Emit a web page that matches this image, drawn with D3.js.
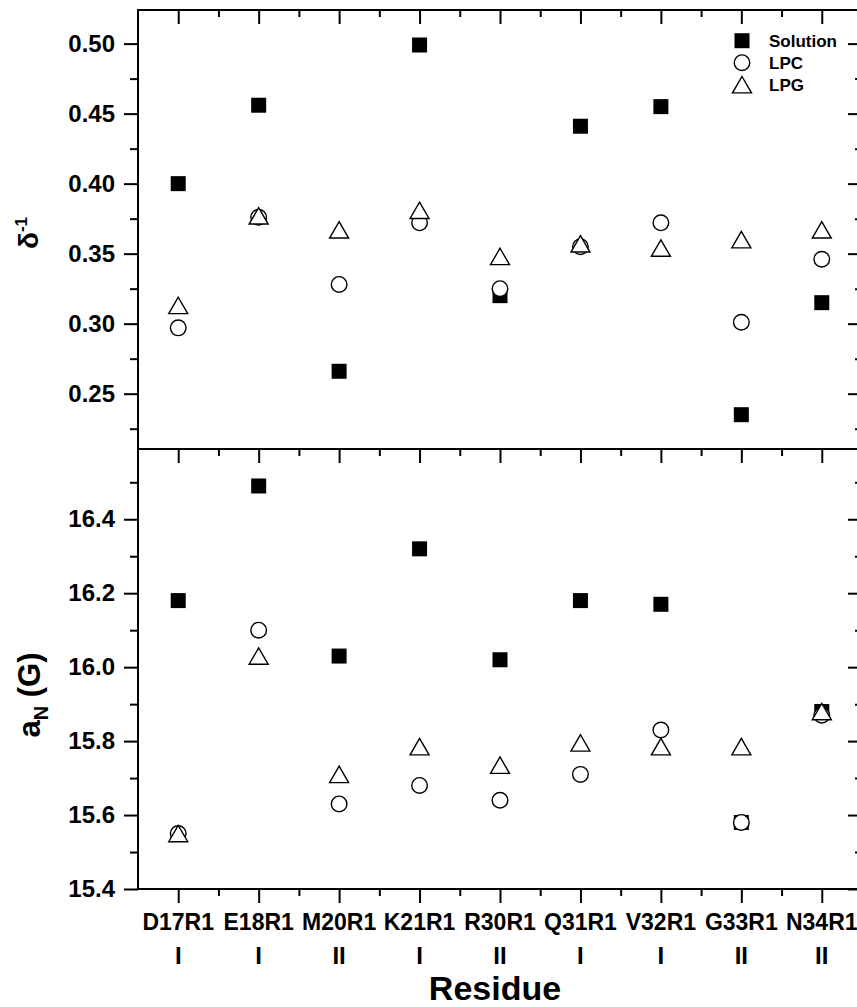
<!DOCTYPE html>
<html>
<head>
<meta charset="utf-8">
<script src="https://cdn.jsdelivr.net/npm/d3@7"></script>
<style>
    body { margin: 0; background: #fff; }
    svg { display: block; }
    text { font-family: "Liberation Sans", Arial, Helvetica, sans-serif; font-weight: bold; fill: #000; }
</style>
</head>
<body>
<div class="chart"></div>
<script>
// Residues and site labels
const residues = ["D17R1", "E18R1", "M20R1", "K21R1", "R30R1", "Q31R1", "V32R1", "G33R1", "N34R1"]
const sites = ["I", "I", "II", "I", "II", "I", "I", "II", "II"]

// top panel, inverse linewidth
const deltaSolution = [0.400, 0.456, 0.266, 0.499, 0.320, 0.441, 0.455, 0.235, 0.315]
const deltaLPC = [0.297, 0.376, 0.328, 0.372, 0.325, 0.355, 0.372, 0.301, 0.346]
const deltaLPG = [0.313, 0.377, 0.367, 0.381, 0.348, 0.357, 0.354, 0.360, 0.367]

// bottom panel, aN (G)
const aNSolution = [16.18, 16.49, 16.03, 16.32, 16.02, 16.18, 16.17, 15.58, 15.88]
const aNLPC = [15.55, 16.10, 15.63, 15.68, 15.64, 15.71, 15.83, 15.58, 15.87]
const aNLPG = [15.55, 16.03, 15.71, 15.785, 15.735, 15.795, 15.785, 15.785, 15.88]

const seriesNames = ["Solution", "LPC", "LPG"]

const width = 857
const height = 1007
const left = 138, right = 862
const topY = 10, midY = 449, botY = 889

const svg = d3.select('.chart')
    .append('svg')
    .attr('width', width)
    .attr('height', height)

const x = d3.scaleLinear().domain([0.5, residues.length + 0.5]).range([left, right])
const yTop = d3.scaleLinear().domain([0.2105, 0.524]).range([midY, topY])
const yBot = d3.scaleLinear().domain([15.4, 16.59]).range([botY, midY])

const majorX = d3.range(1, residues.length + 1)
const minorX = d3.range(1.5, residues.length, 1)

// markers
const sq = 15
const symbols = {
    "Solution": function (g) {
        g.append('rect').attr('x', -sq / 2).attr('y', -sq / 2).attr('width', sq).attr('height', sq)
            .attr('fill', '#000')
    },
    "LPC": function (g) {
        g.append('circle').attr('r', 7.8).attr('fill', '#fff').attr('stroke', '#000').attr('stroke-width', 1.4)
    },
    "LPG": function (g) {
        g.append('path').attr('d', 'M0,-8.2L9.5,8.2L-9.5,8.2Z')
            .attr('fill', '#fff').attr('stroke', '#000').attr('stroke-width', 1.4).attr('stroke-linejoin', 'miter')
    }
}

function styleAxis(g) {
    g.select('.domain').remove()
    g.selectAll('line').attr('stroke', '#000').attr('stroke-width', 2)
}

function drawPanel(y, y0, y1, series, majorY, minorY, fmt) {
    const p = svg.append('g')

    // left axis with labels
    p.append('g')
        .attr('transform', 'translate(' + left + ',0)')
        .call(d3.axisLeft(y).tickValues(majorY).tickSize(14).tickPadding(9).tickFormat(fmt))
        .call(styleAxis)
        .selectAll('text')
        .style('font-size', '24px')
    p.append('g')
        .attr('transform', 'translate(' + left + ',0)')
        .call(d3.axisLeft(y).tickValues(minorY).tickSize(8).tickFormat(''))
        .call(styleAxis)

    // right axis, ticks inward
    p.append('g')
        .attr('transform', 'translate(' + right + ',0)')
        .call(d3.axisLeft(y).tickValues(majorY).tickSize(14).tickFormat(''))
        .call(styleAxis)
    p.append('g')
        .attr('transform', 'translate(' + right + ',0)')
        .call(d3.axisLeft(y).tickValues(minorY).tickSize(7).tickFormat(''))
        .call(styleAxis)

    // top ticks, inward
    p.append('g')
        .attr('transform', 'translate(0,' + y1 + ')')
        .call(d3.axisBottom(x).tickValues(majorX).tickSize(14).tickFormat(''))
        .call(styleAxis)
    p.append('g')
        .attr('transform', 'translate(0,' + y1 + ')')
        .call(d3.axisBottom(x).tickValues(minorX).tickSize(7).tickFormat(''))
        .call(styleAxis)

    // frame
    p.append('rect')
        .attr('x', left).attr('y', y1)
        .attr('width', right - left).attr('height', y0 - y1)
        .attr('fill', 'none').attr('stroke', '#000').attr('stroke-width', 2)

    // points: squares first, then circles, then triangles
    series.forEach(function (vals, k) {
        const name = seriesNames[k]
        p.append('g')
            .selectAll('g')
            .data(vals)
            .enter()
            .append('g')
            .attr('transform', (d, i) => 'translate(' + x(i + 1) + ',' + y(d) + ')')
            .each(function () { symbols[name](d3.select(this)) })
    })
}

drawPanel(yTop, midY, topY, [deltaSolution, deltaLPC, deltaLPG],
    d3.range(0.25, 0.501, 0.05), d3.range(0.225, 0.48, 0.05), d3.format('.2f'))
drawPanel(yBot, botY, midY, [aNSolution, aNLPC, aNLPG],
    d3.range(15.4, 16.41, 0.2), d3.range(15.5, 16.51, 0.2), d3.format('.1f'))

// bottom axis, outward ticks
svg.append('g')
    .attr('transform', 'translate(0,' + botY + ')')
    .call(d3.axisBottom(x).tickValues(majorX).tickSize(14).tickFormat(''))
    .call(styleAxis)
svg.append('g')
    .attr('transform', 'translate(0,' + botY + ')')
    .call(d3.axisBottom(x).tickValues(minorX).tickSize(7).tickFormat(''))
    .call(styleAxis)

svg.append('g')
    .selectAll('text')
    .data(residues)
    .enter()
    .append('text')
    .attr('x', (d, i) => x(i + 1))
    .attr('y', 930)
    .attr('text-anchor', 'middle')
    .style('font-size', '23px')
    .text(d => d)

svg.append('g')
    .selectAll('text')
    .data(sites)
    .enter()
    .append('text')
    .attr('x', (d, i) => x(i + 1))
    .attr('y', 964)
    .attr('text-anchor', 'middle')
    .style('font-size', '24px')
    .text(d => d)

svg.append('text')
    .attr('x', 495)
    .attr('y', 1000)
    .attr('text-anchor', 'middle')
    .style('font-size', '34px')
    .text('Residue')

// y titles
const t1 = svg.append('text')
    .attr('transform', 'translate(38,233) rotate(-90)')
    .attr('text-anchor', 'middle')
    .style('font-size', '28px')
t1.append('tspan').text('δ')
t1.append('tspan').attr('dy', -11).style('font-size', '17px').text('-1')

const t2 = svg.append('text')
    .attr('transform', 'translate(40,695) rotate(-90)')
    .attr('text-anchor', 'middle')
    .style('font-size', '31px')
t2.append('tspan').text('a')
t2.append('tspan').attr('dy', 8).style('font-size', '20px').text('N')
t2.append('tspan').attr('dy', -8).text(' (G)')

// legend
const leg = svg.append('g')
    .selectAll('g')
    .data(seriesNames)
    .enter()
    .append('g')
    .attr('transform', (d, i) => 'translate(742,' + (40.7 + i * 22) + ')')

leg.each(function (d) { symbols[d](d3.select(this)) })
leg.append('text')
    .attr('x', 27)
    .attr('dy', '0.36em')
    .style('font-size', '17px')
    .text(d => d)
</script>
</body>
</html>
